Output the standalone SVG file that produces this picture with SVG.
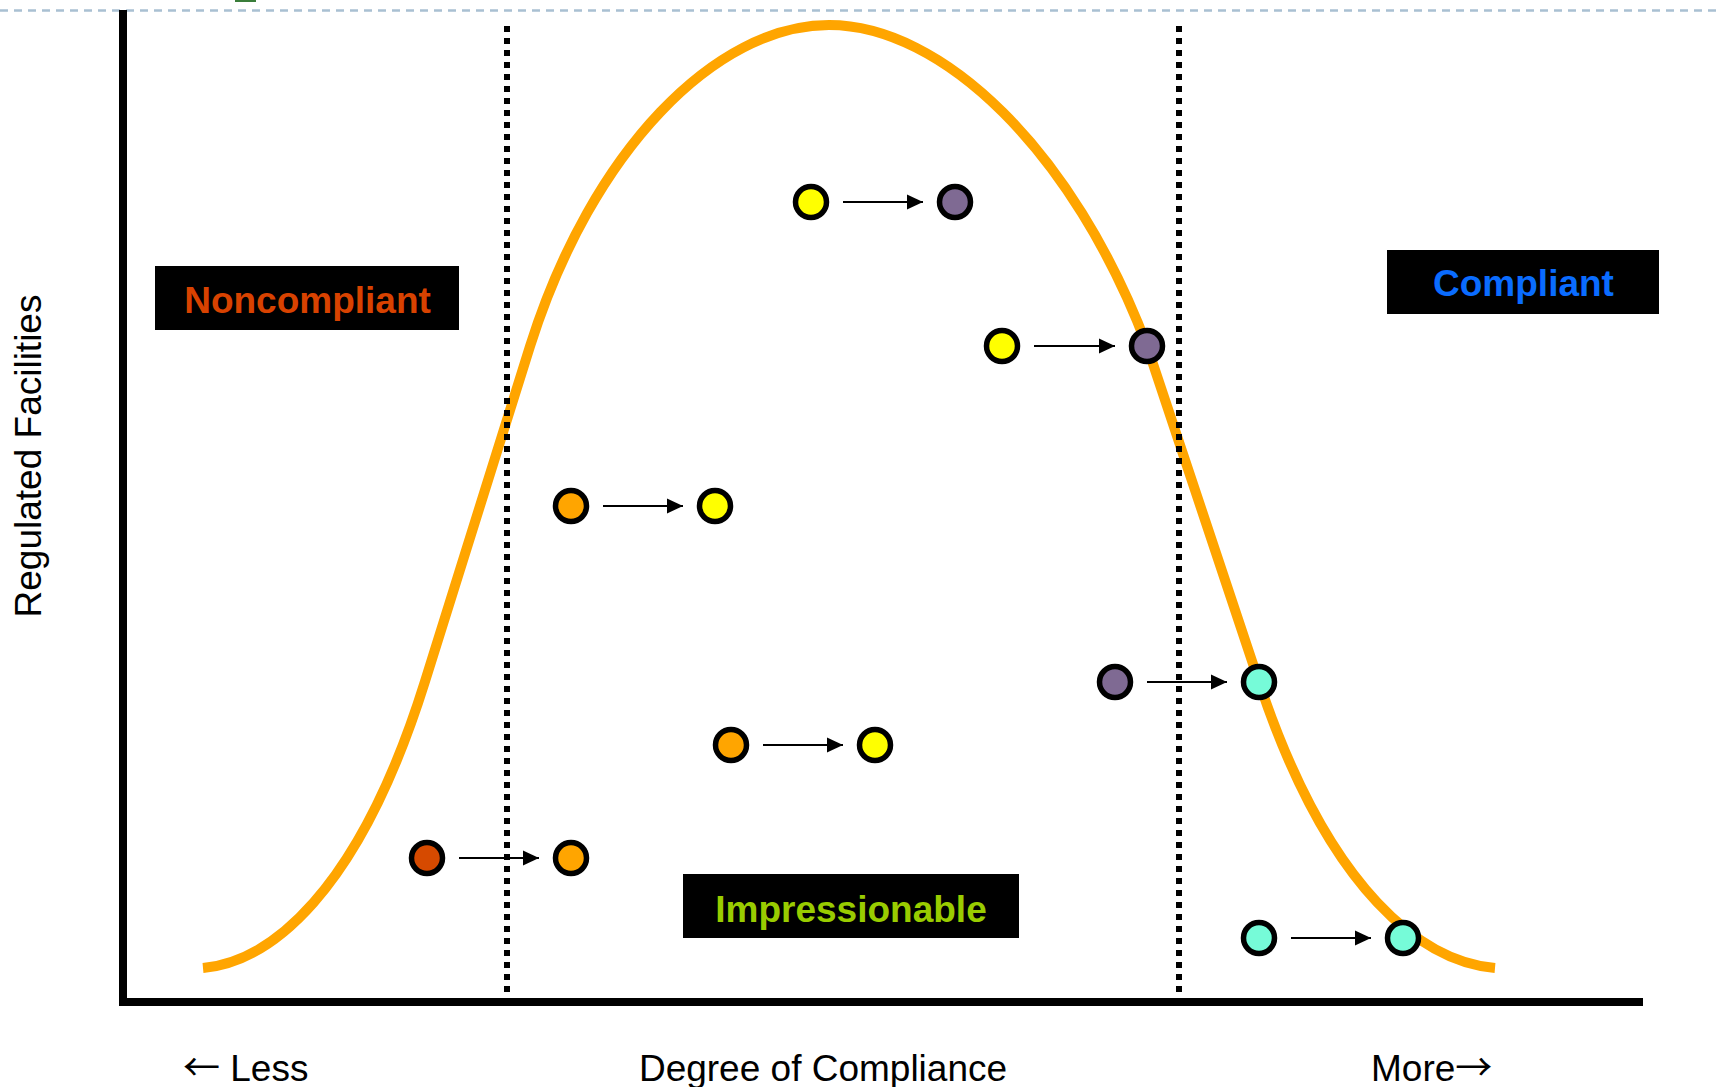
<svg xmlns="http://www.w3.org/2000/svg" width="1721" height="1087" viewBox="0 0 1721 1087">
<style>
.lbl{font-family:"Liberation Sans",Arial,sans-serif;font-weight:bold;font-size:37px;text-anchor:middle}
.ax{font-family:"Liberation Sans",Arial,sans-serif;font-size:37px;fill:#000}
.ar{font-family:"Noto Sans CJK SC","DejaVu Sans",sans-serif}
.dot{stroke:#000;stroke-width:5.5}
.arr{stroke:#000;stroke-width:2;fill:none;marker-end:url(#ah)}
.yel{fill:#ffff00}.pur{fill:#7f6a93}.org{fill:#ffa500}.red{fill:#d64a00}.tea{fill:#76fbd8}
</style>
<defs>
<marker id="ah" markerUnits="userSpaceOnUse" markerWidth="16" markerHeight="16" viewBox="0 0 16 16" refX="16" refY="8" orient="auto">
<path d="M0,0.5 L16,8 L0,15.5 z" fill="#000"/>
</marker>
</defs>
<rect width="1721" height="1087" fill="#fff"/>
<line x1="0" y1="10.5" x2="1721" y2="10.5" stroke="#a9c0d2" stroke-width="2.5" stroke-dasharray="8 6"/>
<rect x="235" y="0" width="21" height="2" fill="#3a7d3a"/>
<g id="axes">
<line x1="123" y1="10" x2="123" y2="1006" stroke="#000" stroke-width="8"/>
<line x1="119" y1="1002" x2="1643" y2="1002" stroke="#000" stroke-width="8"/>
</g>
<g id="curve">
<path d="M203,968 C268.8,962 358.1,895 424.8,682 L530.1,346 C592,150 716,25 829,25 C942,25 1073,150 1147,346 L1259,682 C1330,895 1425,962 1495,968" fill="none" stroke="#ffa500" stroke-width="10"/>
</g>
<g id="dividers">
<line x1="507" y1="26" x2="507" y2="992" stroke="#000" stroke-width="6" stroke-dasharray="6 6"/>
<line x1="1179" y1="26" x2="1179" y2="992" stroke="#000" stroke-width="6" stroke-dasharray="6 6"/>
</g>
<g id="noncompliant">
<rect x="155" y="266" width="304" height="64" fill="#000"/>
<text class="lbl" x="307.5" y="312.5" fill="#d84200">Noncompliant</text>
</g>
<g id="compliant">
<rect x="1387" y="250" width="272" height="64" fill="#000"/>
<text class="lbl" x="1523.5" y="296" fill="#0a6cff">Compliant</text>
</g>
<g id="impressionable">
<rect x="683" y="874" width="336" height="64" fill="#000"/>
<text class="lbl" x="851" y="921.5" fill="#99cc00">Impressionable</text>
</g>
<g id="connectors">
<line class="arr" x1="843" y1="202" x2="923" y2="202"/>
<line class="arr" x1="1034" y1="346" x2="1115" y2="346"/>
<line class="arr" x1="603" y1="506" x2="683" y2="506"/>
<line class="arr" x1="1147" y1="682" x2="1227" y2="682"/>
<line class="arr" x1="763" y1="745" x2="843" y2="745"/>
<line class="arr" x1="459" y1="858" x2="539" y2="858"/>
<line class="arr" x1="1291" y1="938" x2="1371" y2="938"/>
</g>
<g id="facility-a1"><circle class="dot yel" cx="811" cy="202" r="15.5"/></g>
<g id="facility-a2"><circle class="dot pur" cx="955" cy="202" r="15.5"/></g>
<g id="facility-b1"><circle class="dot yel" cx="1002" cy="346" r="15.5"/></g>
<g id="facility-b2"><circle class="dot pur" cx="1147" cy="346" r="15.5"/></g>
<g id="facility-c1"><circle class="dot org" cx="571" cy="506" r="15.5"/></g>
<g id="facility-c2"><circle class="dot yel" cx="715" cy="506" r="15.5"/></g>
<g id="facility-d1"><circle class="dot pur" cx="1115" cy="682" r="15.5"/></g>
<g id="facility-d2"><circle class="dot tea" cx="1259" cy="682" r="15.5"/></g>
<g id="facility-e1"><circle class="dot org" cx="731" cy="745" r="15.5"/></g>
<g id="facility-e2"><circle class="dot yel" cx="875" cy="745" r="15.5"/></g>
<g id="facility-f1"><circle class="dot red" cx="427" cy="858" r="15.5"/></g>
<g id="facility-f2"><circle class="dot org" cx="571" cy="858" r="15.5"/></g>
<g id="facility-g1"><circle class="dot tea" cx="1259" cy="938" r="15.5"/></g>
<g id="facility-g2"><circle class="dot tea" cx="1403" cy="938" r="15.5"/></g>
<g id="axis-labels">
<text class="ax" x="183" y="1081"><tspan class="ar">←</tspan> Less</text>
<text class="ax" x="823" y="1081" text-anchor="middle">Degree of Compliance</text>
<text class="ax" x="1371" y="1081">More<tspan class="ar">→</tspan></text>
<text class="ax" x="41" y="456" text-anchor="middle" transform="rotate(-90 41 456)">Regulated Facilities</text>
</g>
</svg>
